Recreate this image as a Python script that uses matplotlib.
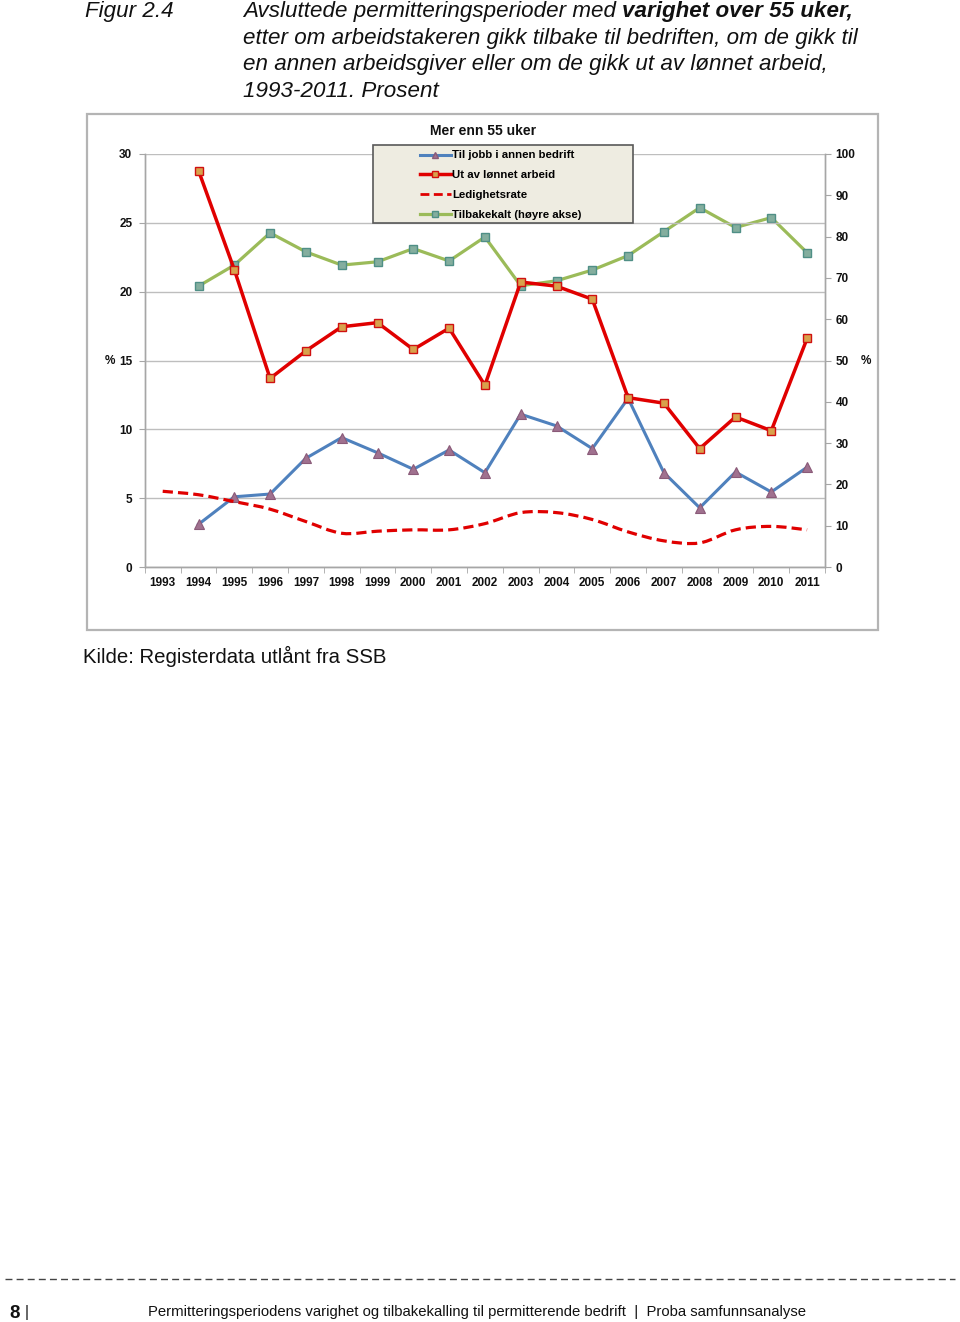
import matplotlib
matplotlib.use("Agg")
import matplotlib.pyplot as plt
import numpy as np
from matplotlib import font_manager
from matplotlib.lines import Line2D
from matplotlib.patches import Rectangle, PathPatch
from matplotlib.path import Path

# Data
years = list(range(1993, 2012))
jobb_annen = [None, 3.1, 5.1, 5.3, 7.9, 9.4, 8.3, 7.1, 8.5, 6.85,
              11.1, 10.25, 8.6, 12.25, 6.85, 4.3, 6.9, 5.45, 7.25]
ut_av_arbeid = [None, 28.8, 21.6, 13.7, 15.7, 17.45, 17.75, 15.8, 17.35, 13.2,
                20.7, 20.4, 19.45, 12.3, 11.9, 8.6, 10.9, 9.9, 16.6]
ledighet = [5.5, 5.25, 4.75, 4.2, 3.3, 2.45, 2.6, 2.7, 2.7, 3.15,
            3.95, 3.95, 3.45, 2.55, 1.9, 1.75, 2.7, 2.95, 2.7]
tilbakekalt = [None, 68.0, 73.1, 80.9, 76.3, 73.1, 73.9, 77.1, 74.1, 79.9,
               68.1, 69.3, 71.9, 75.4, 81.2, 87.0, 82.2, 84.6, 76.1]

left_ticks = [0, 5, 10, 15, 20, 25, 30]
right_ticks = list(range(0, 101, 10))

W, H = 960, 1322
names = {f.name for f in font_manager.fontManager.ttflist}
SANS = "Liberation Sans"
NARROW = "Liberation Sans Narrow" if "Liberation Sans Narrow" in names else None
plt.rcParams["font.family"] = [SANS, "DejaVu Sans"]


def fx(px):
    return px / W


def fy(py):
    return 1 - py / H


def smooth_path(x, y):
    # Excel-style smoothed line: Catmull-Rom segments as cubic Beziers
    pts = np.column_stack([x, y])
    verts = [pts[0]]
    codes = [Path.MOVETO]
    n = len(pts)
    for i in range(n - 1):
        p0 = pts[i - 1] if i > 0 else pts[i]
        p1, p2 = pts[i], pts[i + 1]
        p3 = pts[i + 2] if i + 2 < n else pts[i + 1]
        c1 = p1 + (p2 - p0) / 6.0
        c2 = p2 - (p3 - p1) / 6.0
        verts += [c1, c2, p2]
        codes += [Path.CURVE4] * 3
    return Path(verts, codes)


fig = plt.figure(figsize=(W / 100, H / 100), dpi=100)
fig.patch.set_facecolor("white")

# Chart frame
fig.patches.append(Rectangle((fx(87), fy(630)), fx(878) - fx(87), fy(114) - fy(630),
                             transform=fig.transFigure, facecolor="white",
                             edgecolor="#B4B4B4", linewidth=1.6, zorder=-5))

ax = fig.add_axes([fx(144.8), fy(567), fx(825) - fx(144.8), fy(154) - fy(567)])
ax2 = ax.twinx()
ax.set_zorder(ax2.get_zorder() + 1)
ax.patch.set_visible(False)
ax2.patch.set_visible(False)

x = np.arange(len(years))
jb = np.array([np.nan if v is None else v for v in jobb_annen])
ua = np.array([np.nan if v is None else v for v in ut_av_arbeid])
tb = np.array([np.nan if v is None else v for v in tilbakekalt])

# Right axis: recalled
ax2.plot(x, tb, color="#9BBB59", lw=2.3, marker="s", ms=6,
         mfc="#84AE9E", mec="#4F8F86", mew=1.0, zorder=3)

# Left axis series
ax.plot(x, jb, color="#4F81BD", lw=2.2, marker="^", ms=6.5,
        mfc="#A0718F", mec="#8A5A78", mew=0.8, zorder=4)
ax.plot(x, ua, color="#E00000", lw=2.5, marker="s", ms=6,
        mfc="#D8A24C", mec="#D01010", mew=1.0, zorder=5)
ax.add_patch(PathPatch(smooth_path(x, np.array(ledighet)), fill=False,
                       edgecolor="#E00000", lw=2.3, linestyle=(0, (3.2, 1.6)), zorder=4))

ax.set_xlim(-0.5, len(years) - 0.5)
ax.set_ylim(0, 30)
ax2.set_ylim(0, 100)
ax.set_yticks(left_ticks)
ax2.set_yticks(right_ticks)
ax.set_xticks(x)
ax.set_xticklabels([str(y) for y in years])
ax.set_xticks(np.arange(len(years) + 1) - 0.5, minor=True)

ax2.grid(False)
ax.grid(axis="y", color="#BEBEBE", lw=1.0)
ax.set_axisbelow(True)

for a in (ax, ax2):
    a.spines["top"].set_visible(False)
    for s in ("left", "right", "bottom"):
        a.spines[s].set_color("#A6A6A6")
        a.spines[s].set_linewidth(1.0)

ax.tick_params(axis="x", which="major", length=0, pad=7,
               labelsize=8.5, labelcolor="#111111")
ax.tick_params(axis="x", which="minor", length=4, color="#A6A6A6")
ax.tick_params(axis="y", length=4, color="#A6A6A6", pad=5,
               labelsize=8.5, labelcolor="#111111")
ax2.tick_params(axis="y", length=4, color="#A6A6A6", pad=3.5,
                labelsize=8.5, labelcolor="#111111")
for lab in ax.get_xticklabels() + ax.get_yticklabels() + ax2.get_yticklabels():
    lab.set_fontweight("bold")

fig.text(fx(483), fy(131), "Mer enn 55 uker", ha="center", va="center",
         fontsize=10, fontweight="bold", color="#111111")
fig.text(fx(110), fy(361), "%", ha="center", va="center", fontsize=8.5,
         fontweight="bold", color="#111111")
fig.text(fx(866), fy(361), "%", ha="center", va="center", fontsize=8.5,
         fontweight="bold", color="#111111")

# Legend
fig.patches.append(Rectangle((fx(373), fy(223)), fx(633) - fx(373), fy(145) - fy(223),
                             transform=fig.transFigure, facecolor="#EEECE1",
                             edgecolor="#595959", linewidth=1.2, zorder=6))
handles = [
    Line2D([], [], color="#4F81BD", lw=2.2, marker="^", ms=5, mfc="#A0718F", mec="#8A5A78"),
    Line2D([], [], color="#E00000", lw=2.5, marker="s", ms=5, mfc="#D8A24C", mec="#D01010"),
    Line2D([], [], color="#E00000", lw=2.0, linestyle=(0, (3.2, 1.6))),
    Line2D([], [], color="#9BBB59", lw=2.3, marker="s", ms=5, mfc="#84AE9E", mec="#4F8F86"),
]
labels = ["Til jobb i annen bedrift", "Ut av lønnet arbeid", "Ledighetsrate",
          "Tilbakekalt (høyre akse)"]
leg = fig.legend(handles, labels, loc="upper left", bbox_to_anchor=(fx(420), fy(150.5)),
                 bbox_transform=fig.transFigure, frameon=False, borderpad=0,
                 borderaxespad=0, handlelength=2.7, handletextpad=0.1,
                 labelspacing=0.86, numpoints=1, prop={"size": 8.2, "weight": "bold"})
leg.set_zorder(7)

# Heading
renderer = fig.canvas.get_renderer()
TS = 16.1
tcol = "#111111"
fig.text(fx(85), fy(17), "Figur 2.4", fontsize=TS, style="italic", color=tcol,
         va="baseline")
t1 = fig.text(fx(243), fy(17), "Avsluttede permitteringsperioder med", fontsize=TS,
              style="italic", color=tcol, va="baseline")
sp = fig.text(0, 0, "a a", fontsize=TS, style="italic")
sp2 = fig.text(0, 0, "aa", fontsize=TS, style="italic")
space_px = sp.get_window_extent(renderer).width - sp2.get_window_extent(renderer).width
sp.remove()
sp2.remove()
x1 = t1.get_window_extent(renderer).x1 + space_px
fig.text(x1 / W, fy(17), "varighet over 55 uker,", fontsize=TS, style="italic",
         fontweight="bold", color=tcol, va="baseline")
rest = ["etter om arbeidstakeren gikk tilbake til bedriften, om de gikk til",
        "en annen arbeidsgiver eller om de gikk ut av lønnet arbeid,",
        "1993-2011. Prosent"]
for i, line in enumerate(rest):
    fig.text(fx(243), fy(17 + 26.7 * (i + 1)), line, fontsize=TS, style="italic",
             color=tcol, va="baseline")

# Source
fig.text(fx(83), fy(656), "Kilde: Registerdata utlånt fra SSB", fontsize=14.7,
         color=tcol, va="center")

# Footer
fig.add_artist(Line2D([fx(5), fx(955)], [fy(1279), fy(1279)], transform=fig.transFigure,
                      color="#444444", lw=1.0, linestyle=(0, (5, 3))))
fig.text(fx(9), fy(1313), "8", fontsize=13.5, fontweight="bold", color=tcol, va="center")
fig.text(fx(25), fy(1313), "|", fontsize=11.5, color=tcol, va="center")
footer = ("Permitteringsperiodens varighet og tilbakekalling til "
          "permitterende bedrift  |  Proba samfunnsanalyse")
if NARROW:
    fig.text(fx(148), fy(1312), footer, fontsize=11.5, family=[NARROW, "DejaVu Sans"],
             color=tcol, va="center")
else:
    fig.text(fx(148), fy(1312), footer, fontsize=10.7, color=tcol, va="center")

fig.savefig("out.png", dpi=100, facecolor="white")
